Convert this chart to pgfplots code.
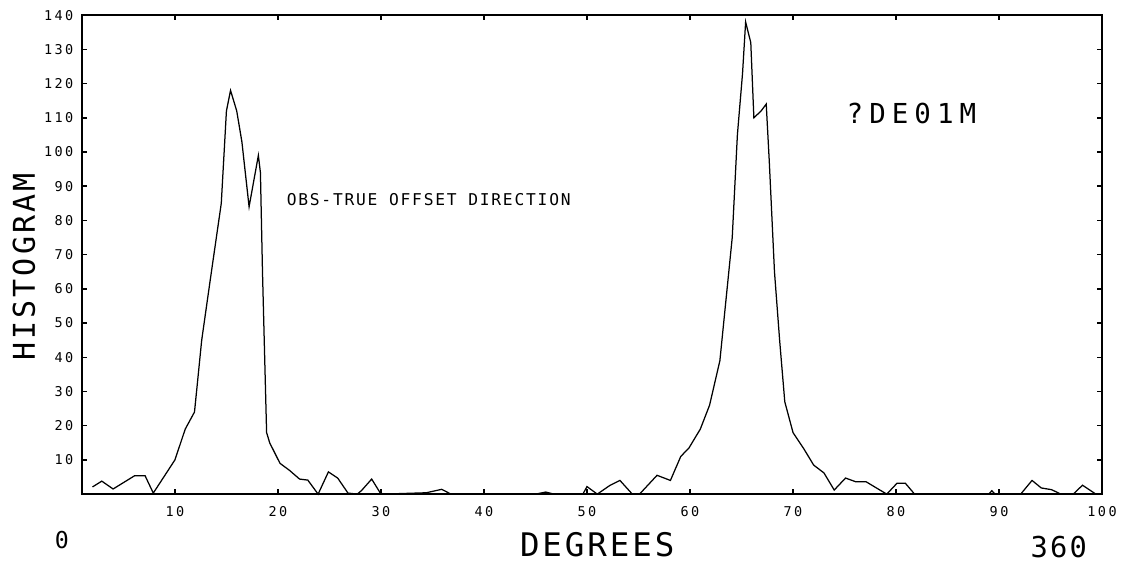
\documentclass[border=0pt]{standalone}
\usepackage{fontspec}
\usepackage{pgfplots}
\pgfplotsset{compat=1.18}
\newfontfamily\plotfont{DejaVu Sans Mono}
\newcommand\tickfont{\plotfont\addfontfeatures{LetterSpace=18}\fontsize{5.4}{6}\selectfont}
\begin{document}
\begin{tikzpicture}
\begin{axis}[
  at={(0,0)}, anchor=south west,
  scale only axis, width=408pt, height=191.6pt,
  xmin=1, xmax=100, ymin=0, ymax=140,
  xtick={10,20,...,100}, ytick={10,20,...,140},
  tick align=inside, major tick length=2pt,
  axis line style={line width=0.6pt},
  every tick/.style={line width=0.6pt,black},
  /pgf/number format/assume math mode=true,
  ticklabel style={font=\tickfont},
  xticklabel style={yshift=-1.6pt},
  clip=false,
]
\addplot[black, line width=0.5pt] coordinates {
(2,2.1) (2.9,3.8) (4,1.5) (6.1,5.4) (7.1,5.4) (7.9,0.3) (10,10) (11,19)
(11.9,24) (12.6,45) (13.4,62) (14.5,85) (15,112) (15.4,118) (16,112)
(16.5,103) (17.2,84) (18.1,99) (18.3,94) (18.5,65) (18.9,18) (19.2,15)
(20.2,9) (21.1,7) (22.1,4.4) (22.9,4.1) (23.9,0) (24.9,6.5) (25.8,4.7)
(26.8,0.3) (27.7,0) (28.1,1) (29.1,4.4) (29.9,0.5) (30.2,0) (34.4,0.4)
(35.9,1.4) (36.8,0) (45,0) (46,0.6) (46.8,0) (49.6,0) (50,2.2) (51,0)
(52.2,2.5) (53.2,4) (54.4,0) (55.1,0) (56.8,5.5) (58.1,4) (59.1,11)
(59.9,13.5) (61,19) (61.9,26) (62.9,39) (63.5,57) (64.1,75) (64.6,105)
(65.1,123) (65.4,138) (65.9,132) (66.2,110) (66.9,112) (67.4,114)
(67.7,97) (68.2,65) (68.7,45) (69.2,27) (70,18) (71.1,13) (72,8.5)
(73,6.2) (74,1.2) (75.1,4.7) (76.1,3.6) (77.1,3.6) (79.1,0) (80.1,3.2)
(80.9,3.2) (81.8,0) (89,0) (89.3,1) (89.6,0) (92.1,0) (93.2,4) (94.1,1.8)
(95.1,1.3) (96,0) (97.2,0) (98.1,2.6) (99.4,0)
};
\node[anchor=west, font={\plotfont\addfontfeatures{LetterSpace=11}\fontsize{6.5}{7}\selectfont}]
  at (axis cs:20,86) {OBS-TRUE OFFSET DIRECTION};
\node[font={\plotfont\addfontfeatures{LetterSpace=22}\fontsize{11}{12}\selectfont}]
  at (axis cs:81.5,111.4) {?DE01M};
\node[rotate=90, font={\plotfont\addfontfeatures{LetterSpace=10}\fontsize{12}{13}\selectfont}]
  at (axis cs:-4.66,66.4) {HISTOGRAM};
\node[font={\plotfont\addfontfeatures{LetterSpace=9}\fontsize{13}{14}\selectfont}]
  at (axis cs:51,-14.9) {DEGREES};
\node[font={\plotfont\fontsize{9.3}{10}\selectfont}] at (axis cs:-0.97,-13.5) {0};
\node[font={\plotfont\addfontfeatures{LetterSpace=8}\fontsize{11.5}{12}\selectfont}]
  at (axis cs:95.8,-15.5) {360};
\path (axis cs:-6.98,-21.05) rectangle (axis cs:102.13,144.44);
\end{axis}
\end{tikzpicture}
\end{document}
